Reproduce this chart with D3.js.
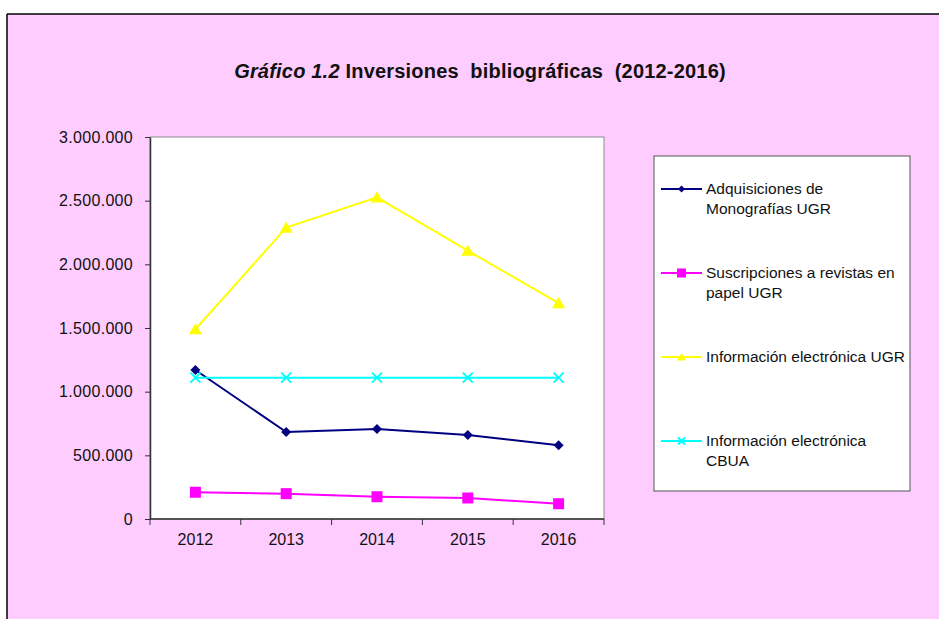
<!DOCTYPE html>
<html>
<head>
<meta charset="utf-8">
<script src="https://cdn.jsdelivr.net/npm/d3@7"></script>
<style>
  html, body { margin: 0; padding: 0; background: #fff; }
  svg { display: block; }
  text { font-family: "Liberation Sans", Arial, sans-serif; fill: #111; }
</style>
</head>
<body>
<svg id="chart" width="939" height="619"></svg>
<script>
const categories = ["2012", "2013", "2014", "2015", "2016"];
const seriesNames = [
  ["Adquisiciones de", "Monografías UGR"],
  ["Suscripciones a revistas en", "papel UGR"],
  ["Información electrónica UGR"],
  ["Información electrónica", "CBUA"]
];
const monografias = [1170000, 683000, 707000, 660000, 579000];
const revistas = [210000, 199000, 175000, 165000, 120000];
const electronicaUGR = [1490000, 2288000, 2526000, 2107000, 1696000];
const electronicaCBUA = [1110000, 1110000, 1110000, 1110000, 1110000];
const yTicks = [0, 500000, 1000000, 1500000, 2000000, 2500000, 3000000];
const colors = ["#000080", "#FF00FF", "#FFFF00", "#00FFFF"];
const markers = ["diamond", "square", "triangle", "cross"];

const svg = d3.select("#chart");

// outer background and border
svg.append("rect").attr("x", 7).attr("y", 14).attr("width", 940).attr("height", 610).attr("fill", "#FFCCFF");
svg.append("line").attr("x1", 7).attr("x2", 939).attr("y1", 14).attr("y2", 14).attr("stroke", "#000").attr("stroke-width", 1.5);
svg.append("line").attr("x1", 7).attr("x2", 7).attr("y1", 14).attr("y2", 619).attr("stroke", "#000").attr("stroke-width", 1.5);

// title
const title = svg.append("text").attr("x", 480).attr("y", 78).attr("text-anchor", "middle")
  .attr("xml:space", "preserve")
  .style("font-size", "20px").style("font-weight", "bold").style("letter-spacing", "0.2px");
title.append("tspan").style("font-style", "italic").text("Gráfico 1.2");
title.append("tspan").text(" Inversiones  bibliográficas  (2012-2016)");

const plot = { left: 150, top: 137, right: 604, bottom: 519 };

const x = d3.scaleBand().domain(categories).range([plot.left, plot.right]).padding(0);
const y = d3.scaleLinear().domain([0, 3000000]).range([plot.bottom, plot.top]);

svg.append("rect").attr("x", plot.left).attr("y", plot.top)
  .attr("width", plot.right - plot.left).attr("height", plot.bottom - plot.top)
  .attr("fill", "#fff").attr("stroke", "#8a8a8a").attr("stroke-width", 1);

const fmt = v => d3.format(",")(v).replace(/,/g, ".");

const yAxis = svg.append("g").attr("transform", `translate(${plot.left},0)`)
  .call(d3.axisLeft(y).tickValues(yTicks).tickFormat(fmt).tickSizeOuter(0).tickSizeInner(5).tickPadding(12));
yAxis.select(".domain").attr("stroke", "#333").attr("stroke-width", 1.5);
yAxis.selectAll(".tick line").attr("stroke", "#333");
yAxis.selectAll(".tick text").style("font-size", "16px").style("letter-spacing", "0.3px").attr("fill", "#222")
  .style("font-family", "'Liberation Sans', Arial, sans-serif");

// x axis with ticks at category boundaries
const xAxisG = svg.append("g").attr("transform", `translate(0,${plot.bottom})`);
xAxisG.append("line").attr("x1", plot.left).attr("x2", plot.right).attr("stroke", "#333").attr("stroke-width", 1.5);
const boundaries = categories.map(c => x(c)).concat([x(categories[categories.length - 1]) + x.bandwidth()]);
xAxisG.selectAll("line.tk").data(boundaries).join("line").attr("class", "tk")
  .attr("x1", d => d).attr("x2", d => d).attr("y1", 0).attr("y2", 6).attr("stroke", "#333");
xAxisG.selectAll("text").data(categories).join("text")
  .attr("x", d => x(d) + x.bandwidth() / 2).attr("y", 26).attr("text-anchor", "middle")
  .style("font-size", "16px").attr("fill", "#222").text(d => d);

const allSeries = [monografias, revistas, electronicaUGR, electronicaCBUA];
const line = d3.line().x((d, i) => x(categories[i]) + x.bandwidth() / 2).y(d => y(d));

function drawMarker(g, type, cx, cy, color, s) {
  if (type === "diamond") {
    g.append("path").attr("d", `M${cx},${cy - s}L${cx + s},${cy}L${cx},${cy + s}L${cx - s},${cy}Z`).attr("fill", color);
  } else if (type === "square") {
    g.append("rect").attr("x", cx - s).attr("y", cy - s).attr("width", 2 * s).attr("height", 2 * s).attr("fill", color);
  } else if (type === "triangle") {
    g.append("path").attr("d", `M${cx},${cy - s}L${cx + s * 1.1},${cy + s * 0.85}L${cx - s * 1.1},${cy + s * 0.85}Z`).attr("fill", color);
  } else if (type === "cross") {
    g.append("path").attr("d", `M${cx - s},${cy - s}L${cx + s},${cy + s}M${cx - s},${cy + s}L${cx + s},${cy - s}`)
      .attr("stroke", color).attr("stroke-width", 2).attr("fill", "none");
  }
}

const markerSize = [5, 5.5, 6, 5];
allSeries.forEach((data, si) => {
  const g = svg.append("g");
  g.append("path").datum(data).attr("d", line).attr("fill", "none")
    .attr("stroke", colors[si]).attr("stroke-width", 2);
  data.forEach((v, i) => {
    drawMarker(g, markers[si], x(categories[i]) + x.bandwidth() / 2, y(v), colors[si], markerSize[si]);
  });
});

// legend
const leg = { left: 654, top: 156, right: 910, bottom: 491 };
svg.append("rect").attr("x", leg.left).attr("y", leg.top).attr("width", leg.right - leg.left)
  .attr("height", leg.bottom - leg.top).attr("fill", "#fff").attr("stroke", "#555").attr("stroke-width", 1);
const legY = [189, 273, 357, 441];
const legMarkerSize = [3.5, 4.5, 4, 3.5];
seriesNames.forEach((names, si) => {
  const g = svg.append("g");
  const ly = legY[si];
  g.append("line").attr("x1", 661).attr("x2", 702).attr("y1", ly).attr("y2", ly)
    .attr("stroke", colors[si]).attr("stroke-width", 2);
  drawMarker(g, markers[si], 681.5, ly, colors[si], legMarkerSize[si]);
  names.forEach((t, li) => {
    g.append("text").attr("x", 706).attr("y", ly + 5 + li * 20).style("font-size", "15.5px").attr("fill", "#222").text(t);
  });
});
</script>
</body>
</html>
